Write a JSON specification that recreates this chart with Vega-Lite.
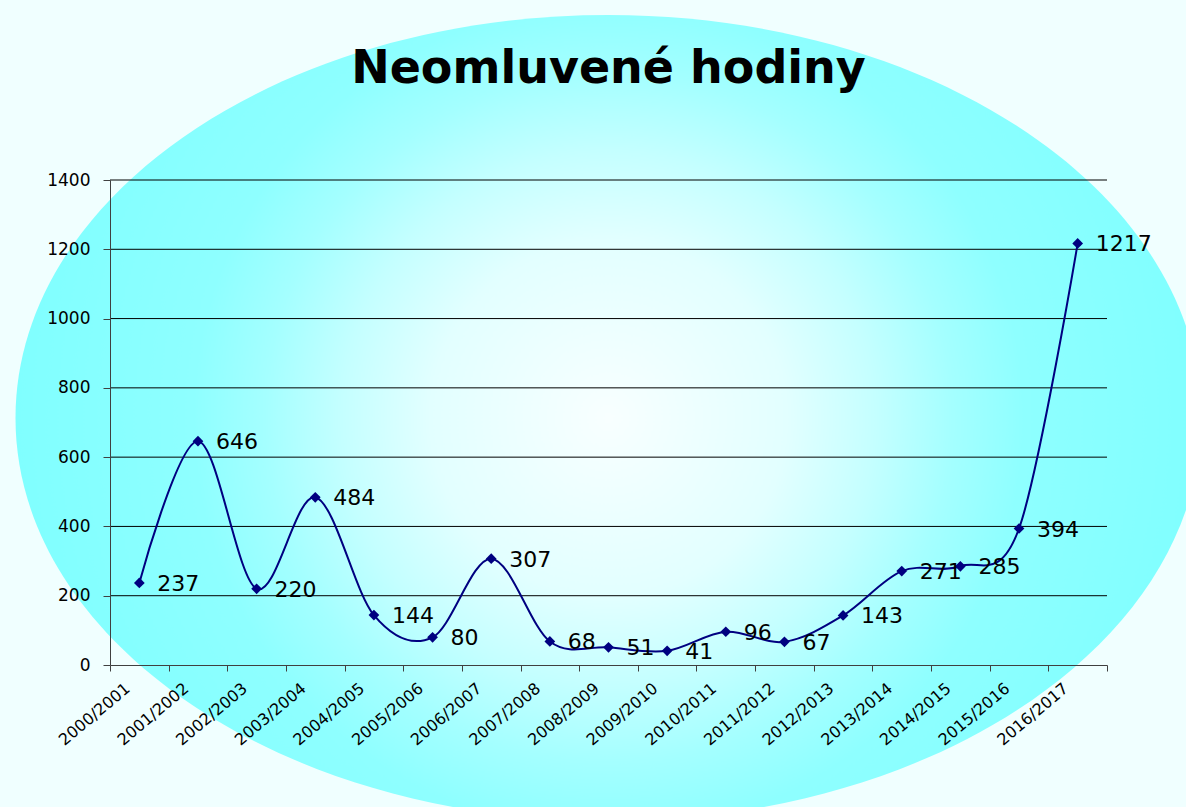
{
  "$schema": "https://vega.github.io/schema/vega-lite/v6.json",
  "autosize": {"type": "none"},
  "width": 997,
  "height": 485,
  "padding": {"left": 110, "top": 180, "right": 79, "bottom": 142},
  "background": "#f0ffff",
  "title": {
    "text": "Neomluvené hodiny",
    "font": "DejaVu Sans",
    "fontSize": 46,
    "fontWeight": "bold",
    "color": "#000000",
    "anchor": "middle",
    "frame": "group",
    "baseline": "alphabetic",
    "offset": -114
  },
  "config": {
    "view": {"stroke": null},
    "axis": {
      "labelFont": "DejaVu Sans",
      "labelColor": "#000000",
      "domainColor": "#404040",
      "tickColor": "#404040",
      "grid": false,
      "title": null,
      "labelOverlap": false
    }
  },
  "datasets": {
    "hours": [
      {"season": "2000/2001", "v": 237},
      {"season": "2001/2002", "v": 646},
      {"season": "2002/2003", "v": 220},
      {"season": "2003/2004", "v": 484},
      {"season": "2004/2005", "v": 144},
      {"season": "2005/2006", "v": 80},
      {"season": "2006/2007", "v": 307},
      {"season": "2007/2008", "v": 68},
      {"season": "2008/2009", "v": 51},
      {"season": "2009/2010", "v": 41},
      {"season": "2010/2011", "v": 96},
      {"season": "2011/2012", "v": 67},
      {"season": "2012/2013", "v": 143},
      {"season": "2013/2014", "v": 271},
      {"season": "2014/2015", "v": 285},
      {"season": "2015/2016", "v": 394},
      {"season": "2016/2017", "v": 1217}
    ],
    "grid": [
      {"g": 200}, {"g": 400}, {"g": 600}, {"g": 800}, {"g": 1000}, {"g": 1200}, {"g": 1400}
    ]
  },
  "layer": [
    {
      "data": {"values": [{}]},
      "mark": {
        "type": "point",
        "shape": "M-1,0 C-1,-0.3753 -0.5523,-0.6796 0,-0.6796 C0.5523,-0.6796 1,-0.3753 1,0 C1,0.3753 0.5523,0.6796 0,0.6796 C-0.5523,0.6796 -1,0.3753 -1,0 Z",
        "size": 1406596,
        "filled": true,
        "opacity": 1,
        "strokeWidth": 0,
        "fill": {
          "gradient": "radial",
          "x1": 0.5, "y1": 0.5, "r1": 0,
          "x2": 0.5, "y2": 0.5, "r2": 0.5,
          "stops": [
            {"offset": 0, "color": "#f8ffff"},
            {"offset": 0.3, "color": "#e2ffff"},
            {"offset": 0.45, "color": "#c4ffff"},
            {"offset": 0.58, "color": "#a4ffff"},
            {"offset": 0.7, "color": "#8effff"},
            {"offset": 1, "color": "#80ffff"}
          ]
        }
      },
      "encoding": {
        "x": {
          "datum": "2008/2009", "type": "nominal",
          "scale": {
            "type": "band", "paddingInner": 0, "paddingOuter": 0,
            "domain": ["2000/2001", "2001/2002", "2002/2003", "2003/2004", "2004/2005", "2005/2006", "2006/2007", "2007/2008", "2008/2009", "2009/2010", "2010/2011", "2011/2012", "2012/2013", "2013/2014", "2014/2015", "2015/2016", "2016/2017"]
          }
        },
        "y": {
          "datum": 713, "type": "quantitative",
          "scale": {"domain": [0, 1400], "nice": false}
        }
      }
    },
    {
      "data": {"name": "grid"},
      "mark": {"type": "rule", "color": "#000000", "strokeWidth": 1},
      "encoding": {
        "y": {"field": "g", "type": "quantitative"}
      }
    },
    {
      "data": {"name": "hours"},
      "mark": {"type": "line", "color": "#000080", "strokeWidth": 2, "interpolate": "cardinal", "tension": 0},
      "encoding": {
        "x": {
          "field": "season", "type": "nominal", "sort": null,
          "axis": {
            "zindex": 1,
            "tickBand": "extent",
            "tickSize": 6,
            "labelAngle": -40,
            "labelFontSize": 16,
            "labelPadding": 15,
            "labelOffset": -12,
            "domain": true
          }
        },
        "y": {
          "field": "v", "type": "quantitative",
          "axis": {
            "zindex": 1,
            "values": [0, 200, 400, 600, 800, 1000, 1200, 1400],
            "format": "d",
            "tickSize": 7,
            "labelFontSize": 17,
            "labelPadding": 13,
            "domain": true
          }
        }
      }
    },
    {
      "data": {"name": "hours"},
      "mark": {"type": "point", "shape": "diamond", "size": 115, "filled": true, "opacity": 1, "color": "#000080"},
      "encoding": {
        "x": {"field": "season", "type": "nominal", "sort": null},
        "y": {"field": "v", "type": "quantitative"}
      }
    },
    {
      "data": {"name": "hours"},
      "mark": {"type": "text", "align": "left", "baseline": "middle", "dx": 18, "dy": 1, "font": "DejaVu Sans", "fontSize": 22, "color": "#000000"},
      "encoding": {
        "x": {"field": "season", "type": "nominal", "sort": null},
        "y": {"field": "v", "type": "quantitative"},
        "text": {"field": "v", "type": "quantitative"}
      }
    }
  ]
}
